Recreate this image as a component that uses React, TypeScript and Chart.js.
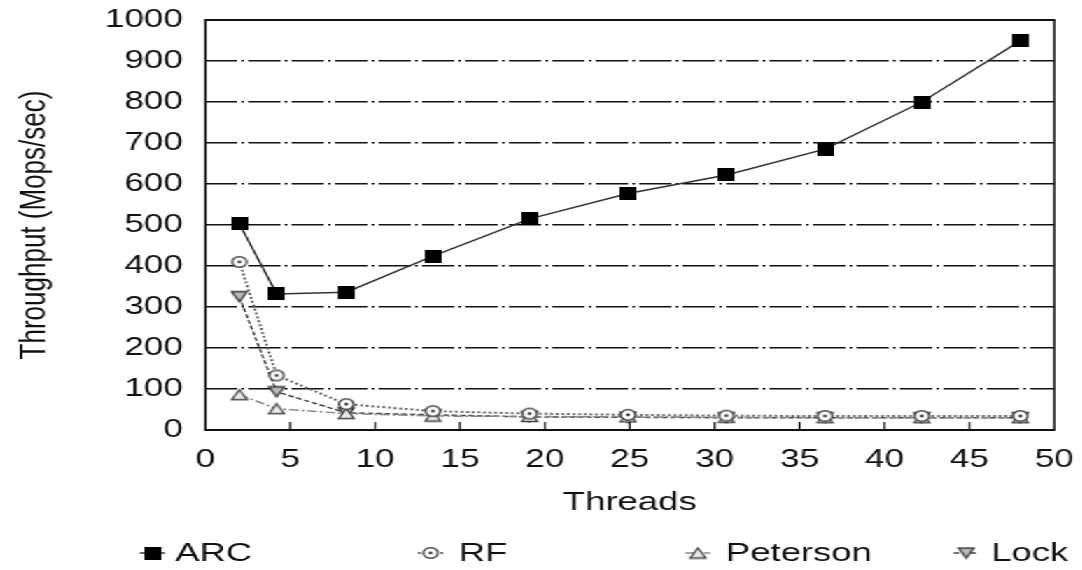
import React, { useEffect, useRef } from 'react';
import { Chart, registerables } from 'chart.js';

Chart.register(...registerables);

// ---- data ----
const threads = [2, 4.2, 8.3, 13.4, 19.1, 24.9, 30.7, 36.5, 42.2, 48];
const arc = [503, 332, 336, 424, 515, 577, 622, 685, 800, 949];
const rf = [410, 133, 63, 46, 40, 37, 35, 34, 34, 34];
const peterson = [86, 52, 40, 34, 33, 32, 31, 30, 30, 30];
const lock = [325, 93, 42, 37, 32, 31, 30, 30, 30, 30];
const seriesNames = ['ARC', 'RF', 'Peterson', 'Lock'];
const xTitle = 'Threads';
const yTitle = 'Throughput (Mops/sec)';

// ---- layout / style constants ----
const S = 1.4; // horizontal stretch of the reference picture
const W = 1082 / S;
const H = 570;
const FONT = "'Liberation Sans', Arial, Helvetica, sans-serif";
const INK = '#111';
const LINE_COLORS = ['#333333', '#666666', '#8a8a8a', '#444444'];
const LINE_WIDTHS = [1.5, 2, 1.5, 1.5];
const LINE_DASHES: number[][] = [[], [2, 2], [7, 2, 2, 2], [4, 2]];
const LEGEND_MARKER_X = [152, 430, 697, 965];
const LEGEND_TEXT_X = [175, 458, 725, 990];
const LEGEND_Y = 553;

function makeCanvas(w: number, h: number, draw: (c: CanvasRenderingContext2D) => void) {
  const cv = document.createElement('canvas');
  cv.width = w;
  cv.height = h;
  const c = cv.getContext('2d')!;
  draw(c);
  return cv;
}

function makeMarkers() {
  const square = makeCanvas(12, 13, (c) => {
    c.fillStyle = '#000';
    c.fillRect(0, 0, 12, 13);
  });
  const circle = makeCanvas(14, 14, (c) => {
    c.strokeStyle = '#444';
    c.lineWidth = 1.5;
    c.fillStyle = '#fff';
    c.beginPath();
    c.arc(7, 7, 5.2, 0, Math.PI * 2);
    c.fill();
    c.stroke();
    c.fillStyle = '#333';
    c.beginPath();
    c.arc(7, 7, 1.4, 0, Math.PI * 2);
    c.fill();
  });
  const triUp = makeCanvas(14, 13, (c) => {
    c.strokeStyle = '#444';
    c.lineWidth = 1.4;
    c.fillStyle = '#e8e8e8';
    c.beginPath();
    c.moveTo(7, 1.5);
    c.lineTo(12.5, 11.5);
    c.lineTo(1.5, 11.5);
    c.closePath();
    c.fill();
    c.stroke();
  });
  const triDown = makeCanvas(14, 13, (c) => {
    c.strokeStyle = '#333';
    c.lineWidth = 1.4;
    c.fillStyle = '#bbb';
    c.beginPath();
    c.moveTo(1.5, 1.5);
    c.lineTo(12.5, 1.5);
    c.lineTo(7, 11.5);
    c.closePath();
    c.fill();
    c.stroke();
  });
  return [square, circle, triUp, triDown];
}

const framePlugin = {
  id: 'frame',
  afterDatasetsDraw(chart: any) {
    const { ctx, chartArea: a } = chart;
    const xs = chart.scales.x;
    const line = (x1: number, y1: number, x2: number, y2: number) => {
      ctx.beginPath();
      ctx.moveTo(x1, y1);
      ctx.lineTo(x2, y2);
      ctx.stroke();
    };
    ctx.save();
    ctx.setLineDash([]);
    ctx.strokeStyle = INK;
    ctx.lineWidth = 2;
    line(a.left - 0.7, a.top, a.right + 0.7, a.top);
    line(a.left - 0.7, a.bottom, a.right + 0.7, a.bottom);
    ctx.lineWidth = 1.5;
    line(a.left, a.top, a.left, a.bottom);
    line(a.right, a.top, a.right, a.bottom);
    ctx.lineWidth = 1.3;
    xs.ticks.forEach((t: any) => {
      if (t.value <= xs.min || t.value >= xs.max) return;
      const px = xs.getPixelForValue(t.value);
      line(px, a.bottom, px, a.bottom - 8);
    });
    ctx.restore();
  },
};

const legendPlugin = {
  id: 'fixedLegend',
  afterDraw(chart: any) {
    const { ctx } = chart;
    ctx.save();
    chart.data.datasets.forEach((ds: any, i: number) => {
      const cx = LEGEND_MARKER_X[i] / S;
      ctx.strokeStyle = ds.borderColor;
      ctx.lineWidth = ds.borderWidth;
      ctx.setLineDash(ds.borderDash || []);
      ctx.beginPath();
      ctx.moveTo(cx - 9, LEGEND_Y);
      ctx.lineTo(cx + 9, LEGEND_Y);
      ctx.stroke();
      ctx.setLineDash([]);
      const img = ds.pointStyle as HTMLCanvasElement;
      ctx.drawImage(img, cx - img.width / 2, LEGEND_Y - img.height / 2);
      ctx.fillStyle = INK;
      ctx.font = `26px ${FONT}`;
      ctx.textAlign = 'left';
      ctx.textBaseline = 'middle';
      ctx.fillText(ds.label, LEGEND_TEXT_X[i] / S, LEGEND_Y + 1);
    });
    ctx.restore();
  },
};

export default function App() {
  const ref = useRef<HTMLCanvasElement>(null);

  useEffect(() => {
    const canvas = ref.current!;
    const markers = makeMarkers();
    const seriesValues = [arc, rf, peterson, lock];
    const datasets = seriesNames.map((name, i) => ({
      label: name,
      data: threads.map((t, j) => ({ x: t, y: seriesValues[i][j] })),
      borderColor: LINE_COLORS[i],
      borderWidth: LINE_WIDTHS[i],
      borderDash: LINE_DASHES[i],
      pointStyle: markers[i],
      pointRadius: 7,
      fill: false,
      tension: 0,
    }));

    const chart = new Chart(canvas, {
      type: 'line',
      data: { datasets },
      options: {
        animation: false,
        responsive: true,
        maintainAspectRatio: false,
        layout: { padding: { top: 20, right: W - 1053 / S, left: 0, bottom: 0 } },
        plugins: { legend: { display: false }, tooltip: { enabled: false } },
        scales: {
          x: {
            type: 'linear',
            min: 0,
            max: 50,
            ticks: {
              stepSize: 5,
              padding: 7,
              color: INK,
              maxRotation: 0,
              autoSkip: false,
              font: { family: FONT, size: 25 },
            },
            grid: { display: false },
            border: { display: false },
            title: {
              display: true,
              text: xTitle,
              color: INK,
              font: { family: FONT, size: 26 },
              padding: { top: 0, bottom: 52 },
            },
            afterFit: (s: any) => {
              s.height = 140;
              s.paddingLeft = 0;
              s.paddingRight = 0;
            },
          },
          y: {
            type: 'linear',
            min: 0,
            max: 1000,
            ticks: {
              stepSize: 100,
              padding: 16,
              color: INK,
              font: { family: FONT, size: 25 },
              callback: (v: any) => String(v),
            },
            grid: {
              drawTicks: false,
              lineWidth: 1.6,
              color: (c: any) =>
                c.tick && (c.tick.value === 0 || c.tick.value === 1000) ? 'rgba(0,0,0,0)' : '#111',
            },
            border: { display: false, dash: [23, 3, 2, 3] },
            title: {
              display: true,
              text: yTitle,
              color: INK,
              font: { family: FONT, size: 26 },
              padding: { top: 9, bottom: 0 },
            },
            afterFit: (s: any) => {
              s.width = 205 / S;
              s.paddingTop = 0;
              s.paddingBottom = 0;
            },
          },
        },
      } as any,
      plugins: [framePlugin, legendPlugin],
    });
    return () => chart.destroy();
  }, []);

  return (
    <div
      style={{
        position: 'fixed',
        left: 0,
        top: 0,
        width: W,
        height: H,
        background: '#fff',
        transform: `scaleX(${S})`,
        transformOrigin: '0 0',
      }}
    >
      <canvas ref={ref} />
    </div>
  );
}
